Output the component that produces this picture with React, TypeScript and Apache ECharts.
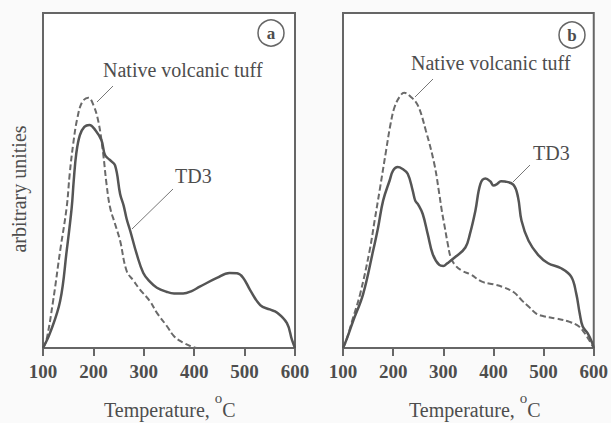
import React, { useEffect, useRef } from "react";
import * as echarts from "echarts";

// Temperature (°C) grid ticks
const xTicks = [100, 200, 300, 400, 500, 600];

// Panel (a): [temperature, arbitrary units]
const nativeA: [number, number][] = [
  [100, 0], [107, 2.5], [120, 14], [134, 29], [147, 42], [153, 52], [160, 61], [168, 68.5],
  [178, 73.5], [190, 74.7], [200, 72.5], [210, 67.5], [219, 58.5], [226, 49], [233, 42],
  [243, 37], [253, 32], [266, 23], [280, 20], [292, 17.5], [312, 14], [326, 10.5],
  [346, 6.5], [360, 3.5], [378, 1.6], [395, 0.4], [405, 0],
];
const td3A: [number, number][] = [
  [100, 0], [114, 4.5], [134, 14], [147, 29], [157, 42], [161, 50], [166, 58], [173, 63.5],
  [182, 66], [192, 66.6], [204, 65], [216, 62], [223, 57.6], [232, 56.2], [243, 54.5],
  [253, 46], [260, 42.5], [266, 38.5], [273, 35], [286, 28], [299, 22.4], [312, 19.8],
  [326, 18], [345, 16.8], [360, 16.3], [378, 16.3], [395, 17], [411, 18.3], [445, 20.9],
  [470, 22.4], [485, 22.3], [497, 21], [511, 17.3], [531, 12.8], [550, 11.5], [564, 10.6],
  [584, 7.4], [594, 2.4], [600, 0],
];

// Panel (b)
const nativeB: [number, number][] = [
  [100, 0], [107, 2.5], [120, 9], [134, 16], [153, 29], [163, 38], [173, 47], [186, 59],
  [195, 67], [203, 72], [213, 75], [222, 76.2], [235, 75], [249, 72.5], [265, 65],
  [282, 55], [292, 46], [297, 41], [303, 36], [309, 31], [315, 27], [325, 24.5], [338, 23],
  [354, 22], [377, 19.8], [400, 19], [417, 18.3], [440, 16.7], [458, 14], [470, 12.4],
  [486, 10.2], [500, 9.5], [525, 8.8], [552, 7.8], [570, 6.5], [582, 4.4], [591, 2.3], [600, 0],
];
const td3B: [number, number][] = [
  [100, 0], [107, 2.5], [120, 8], [140, 16], [160, 29], [170, 36], [180, 44], [193, 50],
  [200, 53], [209, 54], [218, 53.5], [229, 52], [239, 47], [244, 44], [250, 42.8], [259, 40],
  [269, 34], [279, 28], [292, 24.8], [300, 24.5], [308, 25.3], [325, 27.3], [344, 30],
  [353, 34], [364, 41], [374, 49], [384, 50.6], [394, 49.7], [400, 48.5], [407, 48.9],
  [415, 49.8], [423, 49.7], [440, 48.7], [449, 45], [456, 38], [470, 32], [489, 27.8],
  [509, 25.3], [535, 23.8], [555, 21.3], [565, 16.3], [572, 10.3], [578, 6.4], [588, 4.4],
  [597, 1.5], [600, 0],
];

const seriesNames = ["Native volcanic tuff", "TD3"];
const panelLetters = ["a", "b"];
const yName = "arbitrary unities";
const xName = "{t|Temperature, }{s|o}{t|C}";

const FONT = "'Liberation Serif', 'Times New Roman', serif";
const INK = "#4d4d4d";

export default function App() {
  const ref = useRef<HTMLDivElement>(null);
  useEffect(() => {
    if (!ref.current) return;
    const chart = echarts.init(ref.current, null, { renderer: "svg" });
    const mkX = (gi: number) => ({
      type: "value",
      gridIndex: gi,
      min: xTicks[0],
      max: xTicks[xTicks.length - 1],
      interval: 100,
      axisLine: { show: true, lineStyle: { color: "#666", width: 2 } },
      axisTick: { show: true, inside: false, length: 8, lineStyle: { color: "#666", width: 2 } },
      axisLabel: {
        show: true, margin: 14, fontFamily: FONT, fontWeight: "bold", fontSize: 19, color: INK,
        showMinLabel: true, showMaxLabel: true,
      },
      splitLine: { show: false },
    });
    const mkY = (gi: number) => ({
      type: "value",
      gridIndex: gi,
      min: 0,
      max: 100,
      axisLine: { show: true, lineStyle: { color: "#666", width: 2 } },
      axisTick: { show: false },
      axisLabel: { show: false },
      splitLine: { show: false },
    });
    const solid = { color: "#555", width: 2.5 };
    const dashed = { color: "#6a6a6a", width: 2, type: [6, 3] };
    const textStyle = (extra: any) => ({ fontFamily: FONT, fill: INK, ...extra });
    const xNameRich = {
      t: { fontFamily: FONT, fontSize: 20, color: INK, lineHeight: 34, verticalAlign: "bottom" },
      s: { fontFamily: FONT, fontSize: 15, color: INK, lineHeight: 15, verticalAlign: "top", padding: [4, 0, 0, 0] },
    };
    const option: any = {
      animation: false,
      backgroundColor: "#fafafa",
      grid: [
        { left: 43, top: 13, width: 252, height: 335, show: true, backgroundColor: "#fff", borderColor: "#666", borderWidth: 2 },
        { left: 343, top: 13, width: 253, height: 335, show: true, backgroundColor: "#fff", borderColor: "#666", borderWidth: 2 },
      ],
      xAxis: [mkX(0), mkX(1)],
      yAxis: [mkY(0), mkY(1)],
      series: [
        { name: seriesNames[0], type: "line", xAxisIndex: 0, yAxisIndex: 0, data: nativeA, smooth: 0.4, symbol: "none", lineStyle: dashed },
        { name: seriesNames[1], type: "line", xAxisIndex: 0, yAxisIndex: 0, data: td3A, smooth: 0.4, symbol: "none", lineStyle: solid },
        { name: seriesNames[0], type: "line", xAxisIndex: 1, yAxisIndex: 1, data: nativeB, smooth: 0.4, symbol: "none", lineStyle: dashed },
        { name: seriesNames[1], type: "line", xAxisIndex: 1, yAxisIndex: 1, data: td3B, smooth: 0.4, symbol: "none", lineStyle: solid },
      ],
      graphic: [
        // y axis name
        { type: "text", x: 19, y: 189, rotation: Math.PI / 2, style: textStyle({ text: yName, fontSize: 20, align: "center", verticalAlign: "middle" }) },
        // x axis names
        { type: "text", x: 104, y: 403, style: textStyle({ text: xName, rich: xNameRich, align: "left", verticalAlign: "middle" }) },
        { type: "text", x: 409, y: 403, style: textStyle({ text: xName, rich: xNameRich, align: "left", verticalAlign: "middle" }) },
        // series labels panel a
        { type: "text", x: 103, y: 70, style: textStyle({ text: seriesNames[0], fontSize: 20, align: "left", verticalAlign: "middle" }) },
        { type: "line", shape: { x1: 113, y1: 86, x2: 97, y2: 102 }, style: { stroke: "#777", lineWidth: 1 } },
        { type: "text", x: 175, y: 176, style: textStyle({ text: seriesNames[1], fontSize: 20, align: "left", verticalAlign: "middle" }) },
        { type: "line", shape: { x1: 173, y1: 189, x2: 132, y2: 229 }, style: { stroke: "#777", lineWidth: 1 } },
        // series labels panel b
        { type: "text", x: 411, y: 63, style: textStyle({ text: seriesNames[0], fontSize: 20, align: "left", verticalAlign: "middle" }) },
        { type: "line", shape: { x1: 433, y1: 79, x2: 415, y2: 97 }, style: { stroke: "#777", lineWidth: 1 } },
        { type: "text", x: 533, y: 153, style: textStyle({ text: seriesNames[1], fontSize: 20, align: "left", verticalAlign: "middle" }) },
        { type: "line", shape: { x1: 530, y1: 165, x2: 513, y2: 182 }, style: { stroke: "#777", lineWidth: 1 } },
        // panel letters
        { type: "circle", shape: { cx: 271, cy: 33, r: 13 }, style: { fill: "none", stroke: "#666", lineWidth: 1.5 } },
        { type: "text", x: 271, y: 33, style: textStyle({ text: panelLetters[0], fontSize: 17, fontWeight: "bold", align: "center", verticalAlign: "middle" }) },
        { type: "circle", shape: { cx: 572, cy: 35, r: 13 }, style: { fill: "none", stroke: "#666", lineWidth: 1.5 } },
        { type: "text", x: 572, y: 35, style: textStyle({ text: panelLetters[1], fontSize: 17, fontWeight: "bold", align: "center", verticalAlign: "middle" }) },
      ],
    };
    chart.setOption(option);
    return () => chart.dispose();
  }, []);
  return <div ref={ref} style={{ position: "fixed", left: 0, top: 0, width: 611, height: 423 }} />;
}
